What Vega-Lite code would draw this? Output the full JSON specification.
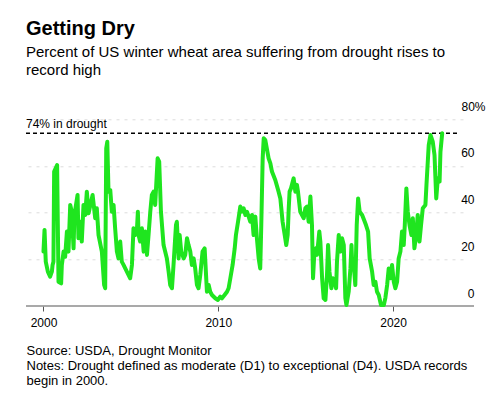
{
  "$schema": "https://vega.github.io/schema/vega-lite/v6.json",
  "width": 437,
  "height": 186.7,
  "autosize": {"type": "none"},
  "padding": {"left": 26, "top": 119.3, "right": 37, "bottom": 92},
  "background": "white",
  "config": {
    "view": {"stroke": null},
    "font": "Liberation Sans"
  },
  "title": {
    "text": "Getting Dry",
    "subtitle": ["Percent of US winter wheat area suffering from drought rises to", "record high"],
    "anchor": "start",
    "frame": "group",
    "font": "Liberation Sans",
    "fontSize": 20,
    "fontWeight": "bold",
    "color": "#000000",
    "subtitleFont": "Liberation Sans",
    "subtitleFontSize": 15,
    "subtitleColor": "#000000",
    "subtitleLineHeight": 18,
    "subtitlePadding": 6,
    "offset": 22
  },
  "layer": [
    {
      "data": {"values": [{"from": 1999, "to": 2024.63, "level": 0}]},
      "mark": {"type": "rule", "color": "#8c8c8c", "strokeWidth": 1.5},
      "encoding": {
        "x": {"field": "from", "type": "quantitative"},
        "x2": {"field": "to"},
        "y": {"field": "level", "type": "quantitative"}
      }
    },
    {
      "data": {"values": [{"from": 1999, "to": 2023.8, "level": 74, "label": "74% in drought"}]},
      "mark": {"type": "rule", "color": "#000000", "strokeWidth": 1.5, "strokeDash": [4, 3]},
      "encoding": {
        "x": {"field": "from", "type": "quantitative"},
        "x2": {"field": "to"},
        "y": {"field": "level", "type": "quantitative"}
      }
    },
    {
      "data": {"values": [{"from": 1999, "level": 74, "label": "74% in drought"}]},
      "mark": {"type": "text", "align": "left", "baseline": "alphabetic", "dy": -5, "fontSize": 12, "color": "#000000", "font": "Liberation Sans"},
      "encoding": {
        "x": {"field": "from", "type": "quantitative"},
        "y": {"field": "level", "type": "quantitative"},
        "text": {"field": "label"}
      }
    },
    {
      "data": {"values": [
        {"year": 2000.0, "pct": 23.3}, {"year": 2000.06, "pct": 32.6}, {"year": 2000.13, "pct": 19.0}, {"year": 2000.25, "pct": 14.7},
        {"year": 2000.38, "pct": 12.6}, {"year": 2000.48, "pct": 14.7}, {"year": 2000.52, "pct": 17.6}, {"year": 2000.57, "pct": 19.0},
        {"year": 2000.61, "pct": 57.6}, {"year": 2000.78, "pct": 60.4}, {"year": 2000.86, "pct": 10.4}, {"year": 2001.01, "pct": 9.7},
        {"year": 2001.05, "pct": 17.6}, {"year": 2001.15, "pct": 23.3}, {"year": 2001.24, "pct": 21.1}, {"year": 2001.34, "pct": 31.9},
        {"year": 2001.43, "pct": 23.3}, {"year": 2001.53, "pct": 43.3}, {"year": 2001.62, "pct": 40.4}, {"year": 2001.72, "pct": 24.7},
        {"year": 2001.77, "pct": 39.0}, {"year": 2001.95, "pct": 47.6}, {"year": 2002.0, "pct": 29.0}, {"year": 2002.1, "pct": 36.1},
        {"year": 2002.19, "pct": 27.6}, {"year": 2002.29, "pct": 43.3}, {"year": 2002.39, "pct": 39.0}, {"year": 2002.48, "pct": 49.0},
        {"year": 2002.58, "pct": 39.7}, {"year": 2002.81, "pct": 47.6}, {"year": 2002.96, "pct": 37.6}, {"year": 2003.05, "pct": 41.9},
        {"year": 2003.15, "pct": 30.4}, {"year": 2003.34, "pct": 23.3}, {"year": 2003.47, "pct": 9.0}, {"year": 2003.53, "pct": 7.6},
        {"year": 2003.59, "pct": 67.6}, {"year": 2003.65, "pct": 70.4}, {"year": 2003.72, "pct": 49.0}, {"year": 2003.82, "pct": 49.7},
        {"year": 2003.91, "pct": 40.4}, {"year": 2004.01, "pct": 43.3}, {"year": 2004.1, "pct": 33.3}, {"year": 2004.2, "pct": 23.3},
        {"year": 2004.29, "pct": 20.4}, {"year": 2004.39, "pct": 27.6}, {"year": 2004.48, "pct": 19.0}, {"year": 2004.58, "pct": 17.6},
        {"year": 2004.77, "pct": 14.7}, {"year": 2004.96, "pct": 11.9}, {"year": 2005.06, "pct": 17.6}, {"year": 2005.15, "pct": 33.3},
        {"year": 2005.25, "pct": 30.4}, {"year": 2005.34, "pct": 31.9}, {"year": 2005.4, "pct": 40.4}, {"year": 2005.44, "pct": 30.4},
        {"year": 2005.53, "pct": 27.6}, {"year": 2005.63, "pct": 33.3}, {"year": 2005.73, "pct": 23.3}, {"year": 2005.82, "pct": 31.9},
        {"year": 2005.92, "pct": 21.9}, {"year": 2006.01, "pct": 30.4}, {"year": 2006.11, "pct": 40.4}, {"year": 2006.2, "pct": 47.6},
        {"year": 2006.3, "pct": 49.0}, {"year": 2006.39, "pct": 43.3}, {"year": 2006.53, "pct": 63.3}, {"year": 2006.62, "pct": 61.9},
        {"year": 2006.72, "pct": 40.4}, {"year": 2006.87, "pct": 26.1}, {"year": 2007.06, "pct": 20.4}, {"year": 2007.16, "pct": 14.7},
        {"year": 2007.25, "pct": 9.0}, {"year": 2007.35, "pct": 7.6}, {"year": 2007.44, "pct": 17.6}, {"year": 2007.58, "pct": 34.7},
        {"year": 2007.63, "pct": 36.1}, {"year": 2007.73, "pct": 20.4}, {"year": 2007.79, "pct": 30.4}, {"year": 2007.88, "pct": 23.3},
        {"year": 2008.02, "pct": 20.4}, {"year": 2008.11, "pct": 21.9}, {"year": 2008.21, "pct": 29.0}, {"year": 2008.3, "pct": 26.1},
        {"year": 2008.4, "pct": 23.3}, {"year": 2008.49, "pct": 17.6}, {"year": 2008.59, "pct": 20.4}, {"year": 2008.68, "pct": 16.1},
        {"year": 2008.78, "pct": 9.0}, {"year": 2008.87, "pct": 7.6}, {"year": 2008.97, "pct": 13.3}, {"year": 2009.1, "pct": 23.3},
        {"year": 2009.22, "pct": 24.7}, {"year": 2009.29, "pct": 14.7}, {"year": 2009.35, "pct": 6.1}, {"year": 2009.45, "pct": 9.0},
        {"year": 2009.54, "pct": 6.1}, {"year": 2009.64, "pct": 4.7}, {"year": 2009.83, "pct": 3.3}, {"year": 2009.98, "pct": 2.6},
        {"year": 2010.11, "pct": 4.0}, {"year": 2010.21, "pct": 3.3}, {"year": 2010.36, "pct": 4.7}, {"year": 2010.5, "pct": 6.1},
        {"year": 2010.59, "pct": 7.6}, {"year": 2010.69, "pct": 11.9}, {"year": 2010.82, "pct": 17.6}, {"year": 2010.94, "pct": 24.7},
        {"year": 2011.01, "pct": 30.4}, {"year": 2011.13, "pct": 36.1}, {"year": 2011.26, "pct": 42.6}, {"year": 2011.36, "pct": 40.4},
        {"year": 2011.45, "pct": 41.9}, {"year": 2011.55, "pct": 39.0}, {"year": 2011.64, "pct": 40.4}, {"year": 2011.74, "pct": 38.3},
        {"year": 2011.83, "pct": 36.1}, {"year": 2011.93, "pct": 39.0}, {"year": 2012.02, "pct": 30.4}, {"year": 2012.12, "pct": 38.3},
        {"year": 2012.21, "pct": 29.0}, {"year": 2012.31, "pct": 20.4}, {"year": 2012.4, "pct": 16.1}, {"year": 2012.46, "pct": 34.7},
        {"year": 2012.54, "pct": 63.3}, {"year": 2012.6, "pct": 71.9}, {"year": 2012.69, "pct": 71.1}, {"year": 2012.88, "pct": 63.3},
        {"year": 2012.98, "pct": 61.1}, {"year": 2013.07, "pct": 57.6}, {"year": 2013.26, "pct": 54.0}, {"year": 2013.45, "pct": 49.0},
        {"year": 2013.55, "pct": 46.1}, {"year": 2013.68, "pct": 36.1}, {"year": 2013.8, "pct": 30.4}, {"year": 2013.89, "pct": 26.1},
        {"year": 2013.97, "pct": 30.4}, {"year": 2014.03, "pct": 41.9}, {"year": 2014.08, "pct": 49.0}, {"year": 2014.16, "pct": 50.4},
        {"year": 2014.31, "pct": 54.7}, {"year": 2014.41, "pct": 49.0}, {"year": 2014.5, "pct": 51.9}, {"year": 2014.56, "pct": 49.0},
        {"year": 2014.69, "pct": 40.4}, {"year": 2014.89, "pct": 37.6}, {"year": 2014.98, "pct": 41.9}, {"year": 2015.08, "pct": 42.6},
        {"year": 2015.17, "pct": 36.1}, {"year": 2015.27, "pct": 46.9}, {"year": 2015.36, "pct": 34.7}, {"year": 2015.42, "pct": 11.9},
        {"year": 2015.5, "pct": 23.3}, {"year": 2015.59, "pct": 24.7}, {"year": 2015.65, "pct": 21.9}, {"year": 2015.78, "pct": 31.9},
        {"year": 2015.84, "pct": 27.6}, {"year": 2015.94, "pct": 11.9}, {"year": 2016.03, "pct": 3.3}, {"year": 2016.13, "pct": 2.6},
        {"year": 2016.22, "pct": 13.3}, {"year": 2016.28, "pct": 26.1}, {"year": 2016.36, "pct": 14.7}, {"year": 2016.47, "pct": 7.6},
        {"year": 2016.55, "pct": 11.9}, {"year": 2016.66, "pct": 10.4}, {"year": 2016.74, "pct": 7.6}, {"year": 2016.79, "pct": 18.9},
        {"year": 2016.89, "pct": 30.4}, {"year": 2016.98, "pct": 23.3}, {"year": 2017.08, "pct": 29.0}, {"year": 2017.18, "pct": 26.1},
        {"year": 2017.27, "pct": 3.3}, {"year": 2017.33, "pct": 0.4}, {"year": 2017.46, "pct": 6.1}, {"year": 2017.56, "pct": 16.1},
        {"year": 2017.62, "pct": 26.1}, {"year": 2017.65, "pct": 20.4}, {"year": 2017.75, "pct": 17.6}, {"year": 2017.84, "pct": 9.0},
        {"year": 2017.92, "pct": 34.7}, {"year": 2018.0, "pct": 46.1}, {"year": 2018.09, "pct": 40.4}, {"year": 2018.23, "pct": 39.0},
        {"year": 2018.38, "pct": 36.1}, {"year": 2018.45, "pct": 34.7}, {"year": 2018.57, "pct": 31.9}, {"year": 2018.66, "pct": 20.4},
        {"year": 2018.8, "pct": 14.7}, {"year": 2018.89, "pct": 9.0}, {"year": 2018.99, "pct": 10.4}, {"year": 2019.08, "pct": 6.1},
        {"year": 2019.18, "pct": 4.7}, {"year": 2019.31, "pct": 0.4}, {"year": 2019.47, "pct": 0.4}, {"year": 2019.56, "pct": 3.5},
        {"year": 2019.66, "pct": 9.0}, {"year": 2019.75, "pct": 16.1}, {"year": 2019.85, "pct": 11.9}, {"year": 2019.94, "pct": 17.6},
        {"year": 2020.04, "pct": 10.4}, {"year": 2020.13, "pct": 7.6}, {"year": 2020.23, "pct": 10.4}, {"year": 2020.32, "pct": 20.4},
        {"year": 2020.42, "pct": 23.3}, {"year": 2020.51, "pct": 31.9}, {"year": 2020.61, "pct": 26.1}, {"year": 2020.67, "pct": 34.7},
        {"year": 2020.76, "pct": 50.4}, {"year": 2020.84, "pct": 40.4}, {"year": 2020.94, "pct": 34.7}, {"year": 2021.05, "pct": 30.4},
        {"year": 2021.13, "pct": 37.6}, {"year": 2021.22, "pct": 24.7}, {"year": 2021.32, "pct": 30.4}, {"year": 2021.41, "pct": 39.0},
        {"year": 2021.51, "pct": 27.6}, {"year": 2021.6, "pct": 34.7}, {"year": 2021.7, "pct": 41.9}, {"year": 2021.85, "pct": 43.3},
        {"year": 2021.91, "pct": 51.9}, {"year": 2022.04, "pct": 69.0}, {"year": 2022.14, "pct": 73.3}, {"year": 2022.27, "pct": 70.4},
        {"year": 2022.37, "pct": 64.7}, {"year": 2022.47, "pct": 46.1}, {"year": 2022.56, "pct": 54.7}, {"year": 2022.66, "pct": 53.3},
        {"year": 2022.71, "pct": 66.1}, {"year": 2022.81, "pct": 74.0}
      ]},
      "mark": {"type": "line", "color": "#1fe51f", "strokeWidth": 4, "strokeJoin": "round", "strokeCap": "round"},
      "encoding": {
        "x": {
          "field": "year",
          "type": "quantitative",
          "scale": {"domain": [1999, 2024], "nice": false, "zero": false},
          "axis": {
            "values": [2000, 2010, 2020],
            "format": "d",
            "grid": false,
            "domain": false,
            "tickSize": 5,
            "tickColor": "#555555",
            "tickWidth": 1,
            "labelFontSize": 12,
            "labelColor": "#000000",
            "labelPadding": 6,
            "labelFont": "Liberation Sans",
            "title": ["Source: USDA, Drought Monitor", "Notes: Drought defined as moderate (D1) to exceptional (D4). USDA records", "begin in 2000."],
            "titleAnchor": "start",
            "titleAlign": "left",
            "titleFont": "Liberation Sans",
            "titleFontSize": 13,
            "titleFontWeight": "normal",
            "titleColor": "#000000",
            "titleLineHeight": 15,
            "titlePadding": 16
          }
        },
        "y": {
          "field": "pct",
          "type": "quantitative",
          "scale": {"domain": [0, 80], "nice": false},
          "axis": {
            "orient": "right",
            "values": [0, 20, 40, 60, 80],
            "labelExpr": "datum.value == 80 ? '80%' : datum.label",
            "domain": false,
            "ticks": false,
            "grid": true,
            "gridColor": "#dcdcdc",
            "gridDash": [3, 5],
            "gridWidth": 1,
            "gridOpacity": {"condition": {"test": "datum.value == 0", "value": 0}, "value": 1},
            "labelAlign": "right",
            "labelBaseline": "alphabetic",
            "labelOffset": -9,
            "labelPadding": {"condition": {"test": "datum.value == 80", "value": 22}, "value": 11},
            "labelFontSize": 12,
            "labelColor": "#000000",
            "labelFont": "Liberation Sans",
            "title": null
          }
        }
      }
    }
  ]
}
